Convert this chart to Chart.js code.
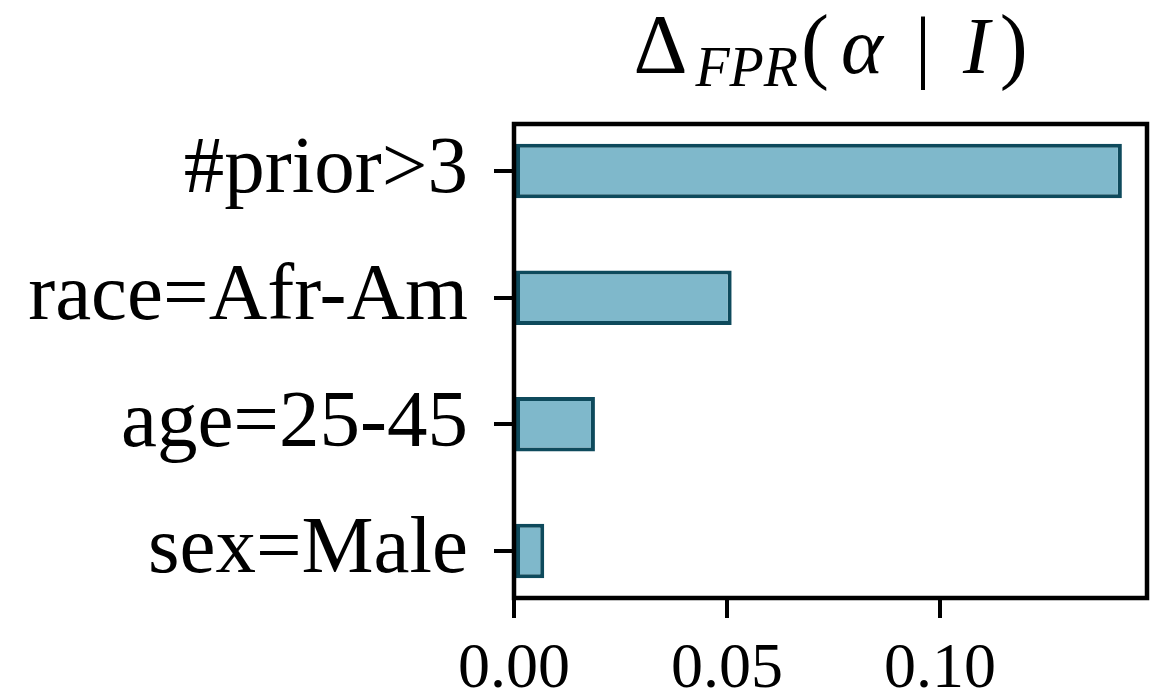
<!DOCTYPE html>
<html><head><meta charset="utf-8">
<script src="https://cdn.jsdelivr.net/npm/chart.js@4"></script>
<style>html,body{margin:0;padding:0;background:#fff}#wrap{width:1151px;height:695px}</style>
</head><body><div id="wrap"><canvas id="c" width="1151" height="695"></canvas></div>
<script>
const categories = ['#prior>3', 'race=Afr-Am', 'age=25-45', 'sex=Male'];
const values = [0.1427, 0.0511, 0.0190, 0.0071];
const xTickValues = [0, 0.05, 0.10];
const xTickLabels = ['0.00', '0.05', '0.10'];
const titleParts = ['Δ', 'FPR', '(', 'α', '|', 'I', ')'];

const SERIF = '"Liberation Serif", "DejaVu Serif", serif';

const boxPlugin = {
  id: 'box',
  afterDraw(chart) {
    const {ctx, chartArea: a} = chart;
    ctx.save();
    ctx.strokeStyle = '#000';
    ctx.lineWidth = 4.5;
    ctx.strokeRect(a.left, a.top, a.right - a.left, a.bottom - a.top);
    ctx.restore();
  }
};

const titlePlugin = {
  id: 'mathTitle',
  afterDraw(chart) {
    const {ctx, chartArea: a} = chart;
    const styles = [
      {font: '84px ' + SERIF, dy: 0, pre: 0, post: 4},
      {font: 'italic 56px ' + SERIF, dy: 13, pre: 4, post: 3},
      {font: '84px ' + SERIF, dy: 0, pre: 0, post: 6},
      {font: 'italic 80px ' + SERIF, dy: 0, pre: 6, post: 0},
      {font: '80px ' + SERIF, dy: 0, pre: 32, post: 32},
      {font: 'italic 80px ' + SERIF, dy: 0, pre: 0, post: 6},
      {font: '84px ' + SERIF, dy: 0, pre: 4, post: 0}
    ];
    ctx.save();
    ctx.fillStyle = '#000';
    ctx.textBaseline = 'alphabetic';
    let total = 0;
    const widths = titleParts.map((t, i) => {
      ctx.font = styles[i].font;
      const w = ctx.measureText(t).width;
      total += styles[i].pre + w + styles[i].post;
      return w;
    });
    let x = (a.left + a.right) / 2 - total / 2;
    const baseY = 73;
    titleParts.forEach((t, i) => {
      const s = styles[i];
      ctx.font = s.font;
      x += s.pre;
      ctx.textAlign = 'left';
      ctx.fillText(t, x, baseY + s.dy);
      x += widths[i] + s.post;
    });
    ctx.restore();
  }
};

new Chart(document.getElementById('c'), {
  type: 'bar',
  data: {
    datasets: [{
      data: values.map((v, i) => ({x: v, y: i})),
      backgroundColor: '#7fb8cb',
      borderColor: '#0e4a5c',
      borderWidth: 4,
      borderSkipped: false,
      barPercentage: 0.43,
      categoryPercentage: 1.0
    }]
  },
  options: {
    indexAxis: 'y',
    responsive: false,
    animation: false,
    devicePixelRatio: 1,
    layout: {padding: {top: 124, right: 4, left: 0, bottom: 0}},
    plugins: {legend: {display: false}, tooltip: {enabled: false}, title: {display: false}},
    scales: {
      x: {
        type: 'linear',
        min: 0,
        max: 0.1486,
        offset: false,
        afterBuildTicks: s => { s.ticks = xTickValues.map(v => ({value: v})); },
        afterFit: s => { s.height = 97; },
        border: {display: false},
        grid: {offset: false, drawOnChartArea: false, drawTicks: true, tickLength: 20, lineWidth: 4, tickWidth: 4, tickColor: '#000', color: '#000'},
        ticks: {
          color: '#000',
          font: {family: SERIF, size: 64},
          padding: 14,
          maxRotation: 0,
          callback: (v) => xTickLabels[xTickValues.indexOf(v)] ?? ''
        }
      },
      y: {
        type: 'linear',
        reverse: true,
        min: -0.37,
        max: 3.37,
        offset: false,
        afterBuildTicks: s => { s.ticks = categories.map((c, i) => ({value: i})); },
        afterFit: s => { s.width = 514; },
        border: {display: false},
        grid: {offset: false, drawOnChartArea: false, drawTicks: true, tickLength: 20, lineWidth: 4, tickWidth: 4, tickColor: '#000', color: '#000'},
        ticks: {
          color: '#000',
          font: {family: SERIF, size: 81},
          padding: 26,
          callback: (v) => categories[v] ?? ''
        }
      }
    }
  },
  plugins: [boxPlugin, titlePlugin]
});
</script>
</body></html>
